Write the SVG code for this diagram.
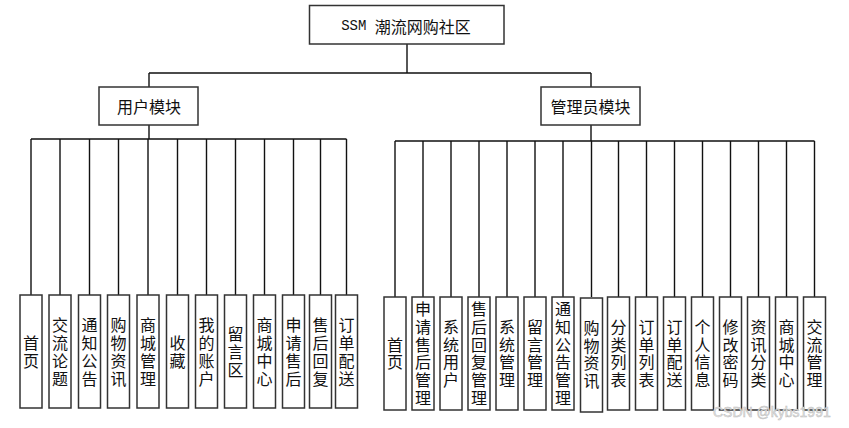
<svg xmlns="http://www.w3.org/2000/svg" width="849" height="428" viewBox="0 0 849 428">
<style>
.box{fill:#fff;stroke:#333;stroke-width:1.5}
.ln{stroke:#111;stroke-width:1.4;fill:none}
.t{font-family:"Noto Sans CJK SC","Microsoft YaHei",sans-serif;font-size:16px;fill:#111;text-anchor:middle;dominant-baseline:central}
.v{font-family:"Noto Sans CJK SC","Microsoft YaHei",sans-serif;font-size:16px;fill:#111;text-anchor:middle;writing-mode:vertical-rl;letter-spacing:2px}
.a{letter-spacing:1.8px}
.wm{font-family:"Liberation Sans",sans-serif;font-size:14px;fill:#e6e6e6;stroke:#bdbdbd;stroke-width:0.5}
</style>
<rect width="849" height="428" fill="#fff"/>
<g id="connectors">
<path class="ln" d="M407,44V73M149,73H591M149,73V87M591,73V87"/>
<path class="ln" d="M149,125V139M31,139H346.5M31,139V295M60,139V295M89.5,139V295M118.5,139V295M148,139V295M177.5,139V295M206.5,139V295M235.5,139V295M264.5,139V295M293.5,139V295M320.5,139V295M346.5,139V295"/>
<path class="ln" d="M591,125V141M395,141H814.5M395,141V297M423,141V297M451,141V297M479,141V297M507,141V297M535,141V297M563,141V297M591.5,141V297M618.5,141V297M646.5,141V297M674.5,141V297M702.5,141V297M730.5,141V297M758.5,141V297M786.5,141V297M814.5,141V297"/>
</g>
<g id="root"><rect class="box" x="309.5" y="5.5" width="194.5" height="38.5"/><text class="t" x="406" y="26"><tspan font-family="Liberation Mono,monospace" font-size="14">SSM </tspan>潮流网购社区</text></g>
<g id="user"><rect class="box" x="99" y="87" width="99" height="38"/><text class="t" x="149" y="106">用户模块</text></g>
<g id="admin"><rect class="box" x="541" y="87" width="99" height="38"/><text class="t" x="590.5" y="106">管理员模块</text></g>

<g id="u1"><rect class="box" x="20" y="295" width="22" height="113"/><text class="v" x="31" y="352.5">首页</text></g>
<g id="u2"><rect class="box" x="49" y="295" width="22" height="113"/><text class="v" x="60" y="352.5">交流论题</text></g>
<g id="u3"><rect class="box" x="78.5" y="295" width="22" height="113"/><text class="v" x="89.5" y="352.5">通知公告</text></g>
<g id="u4"><rect class="box" x="107.5" y="295" width="22" height="113"/><text class="v" x="118.5" y="352.5">购物资讯</text></g>
<g id="u5"><rect class="box" x="137" y="295" width="22" height="113"/><text class="v" x="148" y="352.5">商城管理</text></g>
<g id="u6"><rect class="box" x="166.5" y="295" width="22" height="113"/><text class="v" x="177.5" y="352.5">收藏</text></g>
<g id="u7"><rect class="box" x="195.5" y="295" width="22" height="113"/><text class="v" x="206.5" y="352.5">我的账户</text></g>
<g id="u8"><rect class="box" x="224.5" y="295" width="22" height="113"/><text class="v" x="235.5" y="352.5">留言区</text></g>
<g id="u9"><rect class="box" x="253.5" y="295" width="22" height="113"/><text class="v" x="264.5" y="352.5">商城中心</text></g>
<g id="u10"><rect class="box" x="282.5" y="295" width="22" height="113"/><text class="v" x="293.5" y="352.5">申请售后</text></g>
<g id="u11"><rect class="box" x="309.5" y="295" width="22" height="113"/><text class="v" x="320.5" y="352.5">售后回复</text></g>
<g id="u12"><rect class="box" x="335.5" y="295" width="22" height="113"/><text class="v" x="346.5" y="352.5">订单配送</text></g>

<g id="a1"><rect class="box" x="384" y="297" width="22" height="113"/><text class="v a" x="395" y="354.4">首页</text></g>
<g id="a2"><rect class="box" x="412" y="297" width="22" height="113"/><text class="v a" x="423" y="354.4">申请售后管理</text></g>
<g id="a3"><rect class="box" x="440" y="297" width="22" height="113"/><text class="v a" x="451" y="354.4">系统用户</text></g>
<g id="a4"><rect class="box" x="468" y="297" width="22" height="113"/><text class="v a" x="479" y="354.4">售后回复管理</text></g>
<g id="a5"><rect class="box" x="496" y="297" width="22" height="113"/><text class="v a" x="507" y="354.4">系统管理</text></g>
<g id="a6"><rect class="box" x="524" y="297" width="22" height="113"/><text class="v a" x="535" y="354.4">留言管理</text></g>
<g id="a7"><rect class="box" x="552" y="297" width="22" height="113"/><text class="v a" x="563" y="354.4">通知公告管理</text></g>
<g id="a8"><rect class="box" x="580.5" y="298" width="22" height="114"/><text class="v a" x="591.5" y="355.4">购物资讯</text></g>
<g id="a9"><rect class="box" x="607.5" y="297" width="22" height="113"/><text class="v a" x="618.5" y="354.4">分类列表</text></g>
<g id="a10"><rect class="box" x="635.5" y="297" width="22" height="113"/><text class="v a" x="646.5" y="354.4">订单列表</text></g>
<g id="a11"><rect class="box" x="663.5" y="297" width="22" height="113"/><text class="v a" x="674.5" y="354.4">订单配送</text></g>
<g id="a12"><rect class="box" x="691.5" y="297" width="22" height="113"/><text class="v a" x="702.5" y="354.4">个人信息</text></g>
<g id="a13"><rect class="box" x="719.5" y="297" width="22" height="113"/><text class="v a" x="730.5" y="354.4">修改密码</text></g>
<g id="a14"><rect class="box" x="747.5" y="297" width="22" height="113"/><text class="v a" x="758.5" y="354.4">资讯分类</text></g>
<g id="a15"><rect class="box" x="775.5" y="297" width="22" height="113"/><text class="v a" x="786.5" y="354.4">商城中心</text></g>
<g id="a16"><rect class="box" x="803.5" y="297" width="22" height="113"/><text class="v a" x="814.5" y="354.4">交流管理</text></g>

<text class="wm" x="713" y="417">CSDN @kybs1991</text>
</svg>
